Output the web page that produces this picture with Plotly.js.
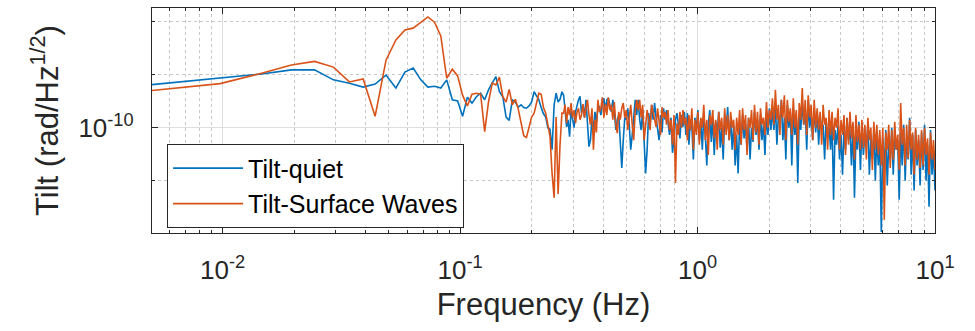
<!DOCTYPE html>
<html>
<head>
<meta charset="utf-8">
<script src="https://cdn.plot.ly/plotly-3.0.1.min.js"></script>
<style>
html,body{margin:0;padding:0;background:#ffffff;}
#chart{width:975px;height:331px;}
</style>
</head>
<body>
<div id="chart"></div>
<script>
// ---------------- DATA ----------------
const seriesNames = ['Tilt-quiet', 'Tilt-Surface Waves'];
const valueUnit = 1e-10; // values below are in units of 1e-10 rad/Hz^(1/2)

// low-frequency PSD bins (Hz)
const freqLow = [0.00488,0.00977,0.0146,0.0195,0.0244,0.0293,0.0342,0.0391,0.0439,0.0488,
  0.0537,0.0586,0.0635,0.0684,0.0732,0.0781,0.0830,0.0879,0.0928,0.0977,
  0.1025,0.1074,0.1123,0.1172,0.1221,0.1270,0.1318,0.1367,0.1416,0.1465,
  0.1514,0.1563,0.1611,0.1660,0.1709,0.1758,0.1807,0.1855,0.1904,0.1953,
  0.2002,0.2051,0.2100,0.2148,0.2197,0.2246,0.2295,0.2344,0.2393,0.2441,
  0.2490,0.2539,0.2588,0.2637,0.2686];

const quietLow = [1.75,1.92,2.02,2.13,2.13,1.87,1.79,1.70,1.77,1.99,
  1.68,2.07,2.18,1.87,1.70,1.72,1.68,1.87,1.44,1.42,
  1.16,1.49,1.38,1.50,1.57,1.44,1.64,1.80,1.95,1.60,
  1.50,1.15,1.10,1.44,1.40,1.31,1.35,1.30,1.29,1.33,
  1.40,1.60,1.50,1.44,1.30,1.20,1.15,1.00,0.98,0.75,
  1.35,1.57,1.40,1.45,1.60];

const wavesLow = [1.62,1.78,2.04,2.27,2.38,2.21,1.82,1.89,1.16,2.42,
  3.15,3.59,3.68,3.98,4.26,3.98,3.32,1.91,2.15,1.97,
  1.53,1.33,1.55,1.57,1.55,0.95,1.40,1.79,1.75,1.94,
  1.50,1.40,1.65,1.35,1.45,1.28,1.05,0.90,0.88,1.00,
  1.15,1.21,1.40,1.57,1.55,1.30,1.21,1.05,0.89,0.55,
  0.40,1.15,0.42,0.80,1.21];

// high-frequency part: samples on a log-spaced frequency grid from 0.273 Hz to 10 Hz
const denseStartHz = 0.273;
const denseStopHz = 10;

const quietDense = [
  1.53,1.26,1.01,1.11,0.89,1.26,1.14,1.00,1.23,1.35,
  1.44,1.51,1.21,1.35,1.14,1.44,1.04,0.78,0.85,1.14,
  0.97,1.23,1.08,1.29,1.31,1.18,1.36,1.47,1.26,1.44,
  1.47,1.35,1.23,1.44,1.26,0.97,1.11,1.18,0.80,0.59,
  0.85,1.14,1.11,1.29,1.04,0.75,0.91,1.23,1.44,1.18,
  1.44,1.11,0.97,1.26,0.85,0.55,0.75,1.21,1.04,1.35,
  1.11,1.38,1.14,1.00,0.85,1.18,0.94,1.29,1.11,1.26,
  1.04,0.91,1.14,0.72,0.85,1.11,1.21,1.00,0.87,1.18,
  1.01,1.23,0.91,1.21,0.80,1.11,1.00,0.66,1.14,0.97,
  1.26,0.85,1.11,0.75,1.18,0.91,0.61,1.04,1.26,0.83,
  1.14,0.70,1.08,0.91,1.23,0.77,1.00,0.66,1.18,0.97,
  1.31,0.85,1.11,0.75,1.04,0.61,0.91,0.55,1.08,0.80,
  1.18,0.87,1.04,0.75,1.14,0.66,1.00,0.83,1.23,0.91,
  1.11,0.75,1.18,0.85,1.04,0.70,1.23,0.91,1.29,0.97,
  1.26,0.97,1.35,0.80,1.18,1.04,1.44,0.85,1.14,0.66,
  1.35,1.00,1.23,0.61,1.29,0.91,1.14,0.485,1.18,0.97,
  1.40,1.04,1.26,0.75,1.44,1.00,1.18,0.85,1.29,0.94,
  1.23,0.80,1.14,0.97,1.04,0.66,1.11,0.87,1.00,0.75,
  1.08,0.39,0.97,0.80,1.04,0.66,0.91,0.54,1.00,0.75,
  1.14,0.85,0.97,0.61,1.04,0.40,0.91,0.75,1.08,0.575,
  1.00,0.70,0.94,0.80,1.04,0.54,0.87,0.66,0.97,0.50,
  0.91,0.61,0.85,0.255,0.87,0.575,0.97,0.47,0.83,0.66,
  1.00,0.54,0.91,0.75,0.85,0.39,0.94,0.61,1.04,0.50,
  0.87,0.66,1.14,0.54,0.91,0.44,0.97,0.61,0.85,0.47,
  0.94,0.575,1.04,0.50,0.80,0.355,0.97,0.54,0.75,0.44];

const wavesDense = [
  1.21,1.35,1.06,1.31,1.18,1.38,1.14,1.26,1.06,1.23,
  1.29,1.11,1.18,1.36,1.14,1.26,1.44,1.18,1.04,1.29,
  0.75,1.11,0.94,1.44,1.23,1.29,1.49,1.14,1.36,1.18,
  1.49,1.26,1.35,1.11,1.40,1.04,0.93,1.23,1.11,1.29,
  1.38,1.14,1.26,0.97,1.18,1.35,1.04,0.85,1.23,1.44,
  1.26,1.44,1.14,1.35,0.85,1.04,1.26,1.11,0.97,1.35,
  1.23,1.14,1.01,1.29,1.08,0.91,1.31,1.14,1.23,1.04,
  1.26,0.97,1.11,0.80,1.18,0.485,1.06,0.91,1.23,1.00,
  1.26,1.04,1.14,0.85,1.18,0.97,1.29,0.75,1.11,0.91,
  1.23,0.80,1.14,1.00,1.35,0.85,1.11,0.70,1.18,1.04,
  1.26,0.87,1.11,0.75,1.23,0.97,1.14,0.80,1.29,0.91,
  1.18,0.85,1.23,1.00,1.11,0.75,1.14,0.91,1.26,0.80,
  1.29,0.97,1.18,0.70,1.14,1.00,1.26,0.85,1.35,0.94,
  1.23,0.80,1.29,1.04,1.14,0.91,1.40,1.00,1.26,1.11,
  1.47,1.04,1.64,1.11,1.35,0.91,1.44,1.14,1.53,0.85,
  1.44,1.08,1.29,0.91,1.47,1.00,1.26,0.80,1.38,1.11,
  1.68,1.04,1.44,0.91,1.53,1.14,1.35,0.85,1.44,1.00,
  1.29,0.97,1.23,0.80,1.35,1.04,1.14,0.75,1.26,0.91,
  1.23,0.85,1.14,1.00,1.29,0.75,1.11,0.91,1.18,0.70,
  1.14,0.80,1.23,0.87,1.08,0.66,1.18,0.83,1.04,0.75,
  1.11,0.77,1.04,0.66,1.14,0.85,1.00,0.575,1.08,0.75,
  1.04,0.70,0.97,0.61,1.00,0.30,0.94,0.75,1.04,0.59,
  0.97,0.66,1.08,0.75,0.91,0.575,1.38,0.80,1.00,0.61,
  1.04,0.67,1.11,0.75,0.94,0.54,1.00,0.66,0.91,0.59,
  0.97,0.61,1.00,0.70,0.87,0.54,0.94,0.66,0.85,0.575];

// axis ticks
const xTickVals = [0.01, 0.1, 1, 10];
const xTickText = ['10<sup>-2</sup>', '10<sup>-1</sup>', '10<sup>0</sup>', '10<sup>1</sup>'];
const xMinorVals = [0.005,0.006,0.007,0.008,0.009,
  0.02,0.03,0.04,0.05,0.06,0.07,0.08,0.09,
  0.2,0.3,0.4,0.5,0.6,0.7,0.8,0.9,
  2,3,4,5,6,7,8,9];
const yTickVals = [1e-10];
const yTickText = ['10<sup>-10</sup>'];
const yMinorVals = [5e-11, 2e-10, 4e-10];

// ---------------- BUILD ----------------
const nDense = quietDense.length;
const freqDense = [];
for (let i = 0; i < nDense; i++) {
  freqDense.push(denseStartHz * Math.pow(denseStopHz / denseStartHz, i / (nDense - 1)));
}
const freqAll = freqLow.concat(freqDense);
const quietAll = quietLow.concat(quietDense).map(v => v * valueUnit);
const wavesAll = wavesLow.concat(wavesDense).map(v => v * valueUnit);

const FONT = '"Liberation Sans", Arial, Helvetica, sans-serif';
const INK = '#262626';

const traces = [
  {x: freqAll, y: quietAll, name: seriesNames[0], type: 'scatter', mode: 'lines',
   line: {color: '#0072BD', width: 1.6}},
  {x: freqAll, y: wavesAll, name: seriesNames[1], type: 'scatter', mode: 'lines',
   line: {color: '#D95319', width: 1.6}}
];

const axisCommon = {
  type: 'log', showline: true, linecolor: INK, linewidth: 1.2, mirror: 'ticks',
  ticks: 'inside', ticklen: 6, tickcolor: INK, tickwidth: 1,
  showgrid: true, gridcolor: '#dedede', gridwidth: 1, zeroline: false,
  tickfont: {family: FONT, size: 26, color: INK}, tickmode: 'array'
};

const layout = {
  width: 975, height: 331,
  paper_bgcolor: '#ffffff', plot_bgcolor: '#ffffff',
  margin: {l: 152, r: 40, t: 8, b: 98, autoexpand: false},
  showlegend: true,
  xaxis: Object.assign({}, axisCommon, {
    range: [-2.297, 1.0],
    tickvals: xTickVals, ticktext: xTickText,
    ticklabelstandoff: 14,
    minor: {tickmode: 'array', tickvals: xMinorVals, ticks: 'inside', ticklen: 3,
            tickcolor: INK, showgrid: true, griddash: 'dot', gridcolor: '#c8c8c8', gridwidth: 1},
    title: {text: 'Frequency (Hz)', font: {family: FONT, size: 31, color: INK}, standoff: 8}
  }),
  yaxis: Object.assign({}, axisCommon, {
    range: [-10.5986, -9.3197],
    tickvals: yTickVals, ticktext: yTickText,
    ticklabelstandoff: 12,
    minor: {tickmode: 'array', tickvals: yMinorVals, ticks: 'inside', ticklen: 3,
            tickcolor: INK, showgrid: true, griddash: 'dot', gridcolor: '#c8c8c8', gridwidth: 1},
    title: {text: 'Tilt (rad/Hz<sup>1/2</sup>)', font: {family: FONT, size: 31, color: INK}, standoff: 10}
  }),
  legend: {
    x: 0.019, y: 0.395, xanchor: 'left', yanchor: 'top',
    bgcolor: '#ffffff', bordercolor: INK, borderwidth: 1.2,
    font: {family: FONT, size: 25, color: '#000000'},
    itemwidth: 70, tracegroupgap: 0
  },
  hovermode: false
};

Plotly.newPlot('chart', traces, layout, {staticPlot: true, displayModeBar: false});
</script>
</body>
</html>
